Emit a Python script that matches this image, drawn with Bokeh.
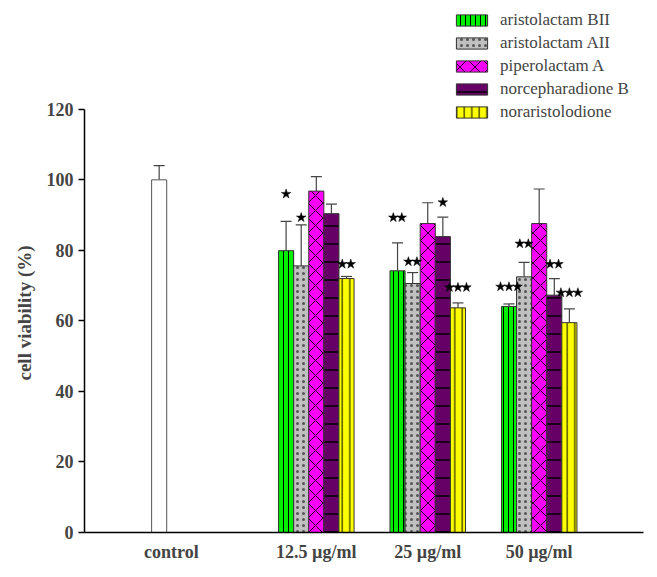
from bokeh.plotting import figure
from bokeh.models import (ColumnDataSource, Range1d, FixedTicker, Whisker, TeeHead,
                          Legend, LegendItem, Title)
from bokeh.embed import file_html
from bokeh.resources import INLINE

# ---------------- data ----------------
groups = ["12.5 µg/ml", "25 µg/ml", "50 µg/ml"]
control_label = "control"
control_value = 100.0
control_err = 4.0

series = ["aristolactam BII", "aristolactam AII", "piperolactam A",
          "norcepharadione B", "noraristolodione"]
values = {
    "aristolactam BII":  [79.9, 74.2, 64.1],
    "aristolactam AII":  [75.6, 70.6, 72.5],
    "piperolactam A":    [96.8, 87.6, 87.6],
    "norcepharadione B": [90.4, 83.9, 67.3],
    "noraristolodione":  [72.0, 63.7, 59.5],
}
errors = {
    "aristolactam BII":  [8.3, 7.9, 0.7],
    "aristolactam AII":  [11.6, 3.1, 4.1],
    "piperolactam A":    [4.1, 5.9, 9.8],
    "norcepharadione B": [2.7, 5.5, 4.7],
    "noraristolodione":  [0.6, 1.4, 3.9],
}
sig = {
    "aristolactam BII":  ["*", "**", "***"],
    "aristolactam AII":  ["*", "**", "**"],
    "piperolactam A":    ["", "", ""],
    "norcepharadione B": ["", "*", "**"],
    "noraristolodione":  ["**", "***", "***"],
}
sig_y = {
    "aristolactam BII":  [96.0, 89.3, 69.7],
    "aristolactam AII":  [89.3, 76.8, 81.9],
    "piperolactam A":    [0, 0, 0],
    "norcepharadione B": [0, 93.6, 76.1],
    "noraristolodione":  [76.1, 69.5, 68.0],
}
y_label = "cell viability (%)"
y_ticks = [0, 20, 40, 60, 80, 100, 120]
y_max = 120

# ---------------- styles ----------------
styles = {
    "aristolactam BII":  dict(fill_color="#00F000", hatch_pattern="vertical_line", hatch_scale=5, hatch_color="black", hatch_weight=1),
    "aristolactam AII":  dict(fill_color="#C0C0C0", hatch_pattern="dot", hatch_scale=6, hatch_color="#555555", hatch_weight=1),
    "piperolactam A":    dict(fill_color="#FF00FF", hatch_pattern="diagonal_cross", hatch_scale=15, hatch_color="#330033", hatch_weight=1),
    "norcepharadione B": dict(fill_color="#660066", hatch_pattern="horizontal_line", hatch_scale=18, hatch_color="black", hatch_weight=1.5),
    "noraristolodione":  dict(fill_color="#FFFF00", hatch_pattern="vertical_line", hatch_scale=7.5, hatch_color="black", hatch_weight=1),
}

FONT = "Liberation Serif"
group_x = [2, 3, 4]
control_x = 0.59
control_tick = 0.70
bar_w = 0.1355
x_start, x_end = -0.08, 4.936
W, H = 651, 570
ML, MR, MT, MB = 84, 8, 0, 38
px_per_unit = (W - ML - MR) / (x_end - x_start)
star_step = 8.5 / px_per_unit
# frame extends to the top of the page; axis drawn only up to y_max
y_px_per_unit = 3.5267
y_end = (H - MT - MB) / y_px_per_unit

p = figure(width=W, height=H, output_backend="svg", toolbar_location=None,
           x_range=Range1d(x_start, x_end), y_range=Range1d(0, y_end),
           min_border_left=ML, min_border_right=MR, min_border_top=MT, min_border_bottom=MB)
p.outline_line_color = None
p.xgrid.visible = False
p.ygrid.visible = False
p.background_fill_color = "white"

# control bar
csrc = ColumnDataSource(dict(x=[control_x], top=[control_value],
                             up=[control_value + control_err]))
p.vbar(x="x", top="top", width=bar_w, bottom=0, source=csrc,
       fill_color="white", line_color="#555555", line_width=1)
p.add_layout(Whisker(base="x", lower="top", upper="up", source=csrc,
                     dimension="height", lower_head=None,
                     upper_head=TeeHead(size=11, line_color="#444444", line_width=1.2),
                     line_color="#444444", line_width=1.2))

items = []
n = len(series)
star_x, star_y = [], []
for i, s in enumerate(series):
    off = (i - (n - 1) / 2) * bar_w
    xs = [g + off for g in group_x]
    tops = values[s]
    ups = [t + e for t, e in zip(tops, errors[s])]
    src = ColumnDataSource(dict(x=xs, top=tops, up=ups))
    r = p.vbar(x="x", top="top", width=bar_w, bottom=0, source=src,
               line_color="#333333", line_width=1, **styles[s])
    p.add_layout(Whisker(base="x", lower="top", upper="up", source=src,
                         dimension="height", lower_head=None,
                         upper_head=TeeHead(size=11, line_color="#444444", line_width=1.2),
                         line_color="#444444", line_width=1.2))
    items.append(LegendItem(label=s, renderers=[r]))
    for xc, lab, yy in zip(xs, sig[s], sig_y[s]):
        k = len(lab)
        for j in range(k):
            star_x.append(xc + (j - (k - 1) / 2) * star_step)
            star_y.append(yy)

p.scatter(star_x, star_y, marker="star", size=10, fill_color="black",
          line_color="black", line_width=0.5)

# axes
ya = p.yaxis[0]
ya.ticker = FixedTicker(ticks=y_ticks)
ya.bounds = (0, y_max)
ya.major_label_text_font = FONT
ya.major_label_text_font_style = "bold"
ya.major_label_text_font_size = "18px"
ya.major_label_standoff = 5
ya.major_tick_out = 6
ya.major_tick_in = 0
ya.minor_tick_out = 0
ya.minor_tick_in = 0
ya.axis_line_width = 1.5
ya.axis_line_color = "black"
ya.major_tick_line_color = "black"
ya.major_tick_line_width = 1.5

# axis title centred on the drawn part of the axis (0..120)
p.add_layout(Title(text=y_label, align="left", offset=152, standoff=13,
                   vertical_align="top",
                   text_font=FONT, text_font_style="bold", text_font_size="19px"),
             "left")

xa = p.xaxis[0]
xa.ticker = FixedTicker(ticks=[control_tick] + group_x)
xa.major_label_overrides = {control_tick: control_label,
                            **{gx: g for gx, g in zip(group_x, groups)}}
xa.major_label_text_font = FONT
xa.major_label_text_font_style = "bold"
xa.major_label_text_font_size = "18px"
xa.major_label_standoff = 9
xa.major_tick_out = 0
xa.major_tick_in = 0
xa.minor_tick_out = 0
xa.minor_tick_in = 0
xa.axis_line_width = 1.5
xa.axis_line_color = "black"

legend = Legend(items=items, location=(368, 410),
                label_text_font=FONT, label_text_font_size="17px",
                glyph_width=39, glyph_height=14, label_height=14,
                label_standoff=9, spacing=3, padding=0, margin=0,
                border_line_color=None, background_fill_alpha=0)
p.add_layout(legend, "center")

open("out.html", "w").write(file_html(p, INLINE))
